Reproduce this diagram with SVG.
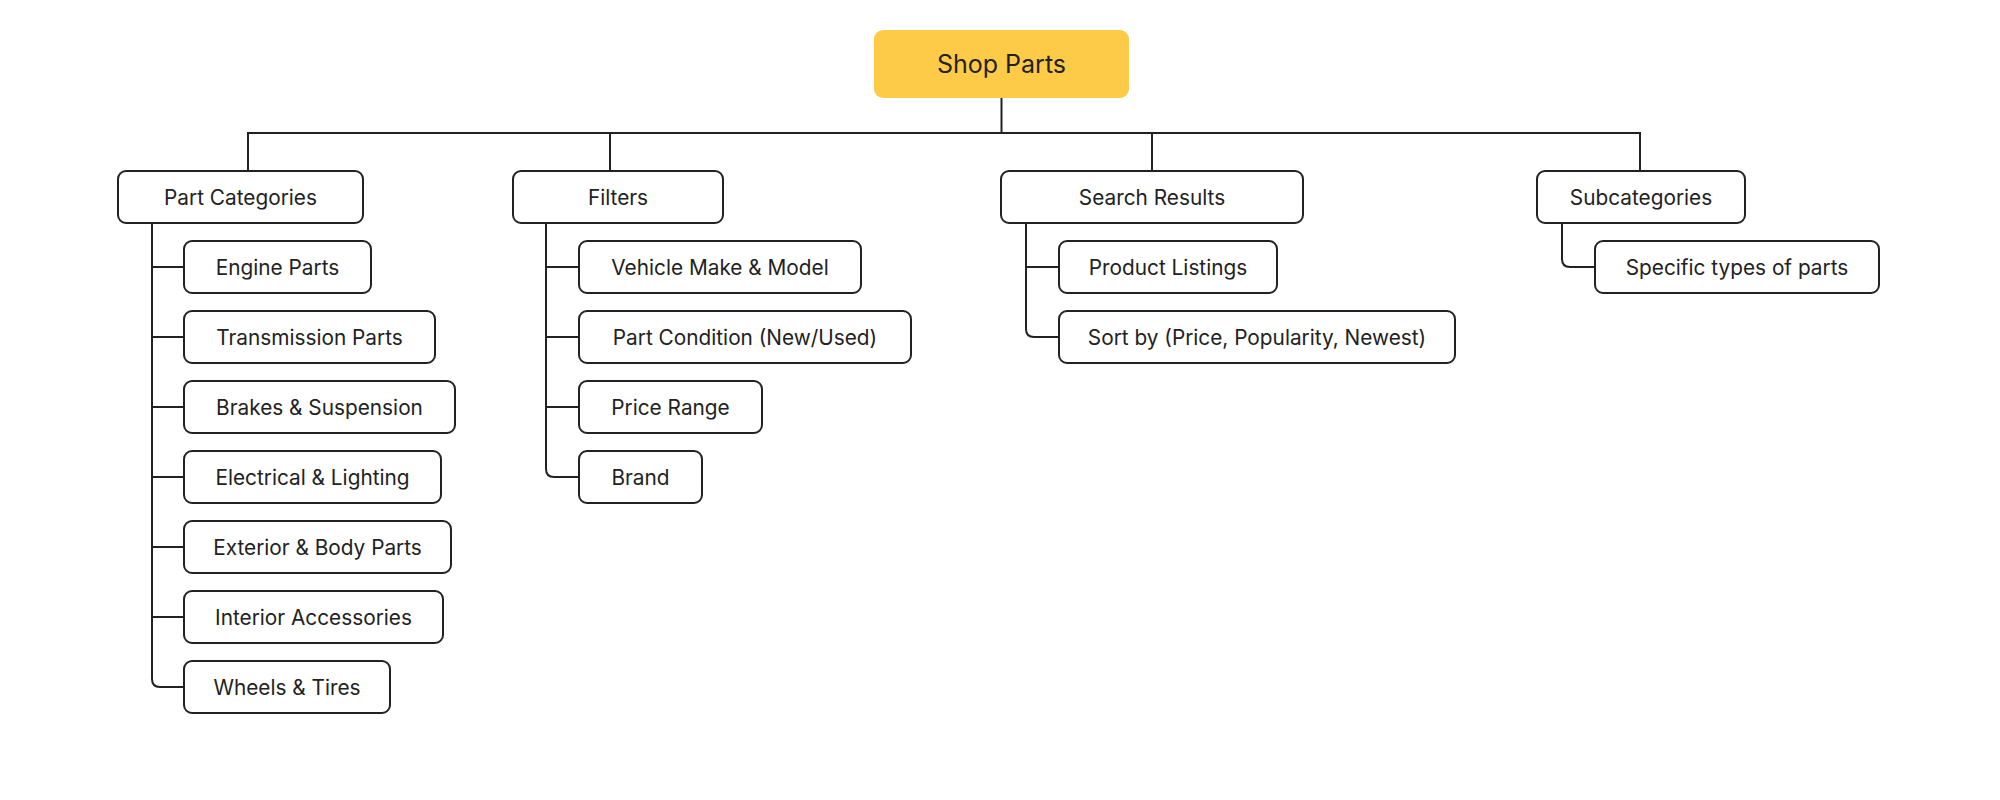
<svg xmlns="http://www.w3.org/2000/svg" width="2000" height="800" viewBox="0 0 2000 800">
<style>
.n rect{fill:#fff;stroke:#222;stroke-width:2}
.n text{font-family:"Inter","Noto Sans",sans-serif;font-size:20.8px;fill:#222;text-anchor:middle}
#root rect{fill:#FECB48;stroke:none}
#root text{font-size:25px}
.c path{fill:none;stroke:#222;stroke-width:2}
</style>
<rect width="2000" height="800" fill="#fff"/>
<g class="c" id="connectors">
<path d="M1001.5 98 V133"/>
<path d="M248 171 V133 H1640 V171"/>
<path d="M610 133 V171"/>
<path d="M1152 133 V171"/>
<path d="M152 223 V679 Q152 687 160 687 H184"/>
<path d="M152 267 H184 M152 337 H184 M152 407 H184 M152 477 H184 M152 547 H184 M152 617 H184"/>
<path d="M546 223 V469 Q546 477 554 477 H579"/>
<path d="M546 267 H579 M546 337 H579 M546 407 H579"/>
<path d="M1026 223 V329 Q1026 337 1034 337 H1059"/>
<path d="M1026 267 H1059"/>
<path d="M1562 223 V259 Q1562 267 1570 267 H1595"/>
</g>
<g class="n" id="root"><rect x="874" y="30" width="255" height="68" rx="9"/><text x="1001.5" y="72.5">Shop Parts</text></g>
<g class="n" id="part-categories"><rect x="118" y="171" width="245" height="52" rx="8"/><text x="240.5" y="204.5">Part Categories</text></g>
<g class="n" id="filters"><rect x="513" y="171" width="210" height="52" rx="8"/><text x="618" y="204.5">Filters</text></g>
<g class="n" id="search-results"><rect x="1001" y="171" width="302" height="52" rx="8"/><text x="1152" y="204.5">Search Results</text></g>
<g class="n" id="subcategories"><rect x="1537" y="171" width="208" height="52" rx="8"/><text x="1641" y="204.5">Subcategories</text></g>
<g class="n" id="engine-parts"><rect x="184" y="241" width="187" height="52" rx="8"/><text x="277.5" y="274.5">Engine Parts</text></g>
<g class="n" id="transmission-parts"><rect x="184" y="311" width="251" height="52" rx="8"/><text x="309.5" y="344.5">Transmission Parts</text></g>
<g class="n" id="brakes-suspension"><rect x="184" y="381" width="271" height="52" rx="8"/><text x="319.5" y="414.5">Brakes &amp; Suspension</text></g>
<g class="n" id="electrical-lighting"><rect x="184" y="451" width="257" height="52" rx="8"/><text x="312.5" y="484.5">Electrical &amp; Lighting</text></g>
<g class="n" id="exterior-body"><rect x="184" y="521" width="267" height="52" rx="8"/><text x="317.5" y="554.5">Exterior &amp; Body Parts</text></g>
<g class="n" id="interior-accessories"><rect x="184" y="591" width="259" height="52" rx="8"/><text x="313.5" y="624.5">Interior Accessories</text></g>
<g class="n" id="wheels-tires"><rect x="184" y="661" width="206" height="52" rx="8"/><text x="287" y="694.5">Wheels &amp; Tires</text></g>
<g class="n" id="vehicle-make-model"><rect x="579" y="241" width="282" height="52" rx="8"/><text x="720" y="274.5">Vehicle Make &amp; Model</text></g>
<g class="n" id="part-condition"><rect x="579" y="311" width="332" height="52" rx="8"/><text x="745" y="344.5">Part Condition (New/Used)</text></g>
<g class="n" id="price-range"><rect x="579" y="381" width="183" height="52" rx="8"/><text x="670.5" y="414.5">Price Range</text></g>
<g class="n" id="brand"><rect x="579" y="451" width="123" height="52" rx="8"/><text x="640.5" y="484.5">Brand</text></g>
<g class="n" id="product-listings"><rect x="1059" y="241" width="218" height="52" rx="8"/><text x="1168" y="274.5">Product Listings</text></g>
<g class="n" id="sort-by"><rect x="1059" y="311" width="396" height="52" rx="8"/><text x="1257" y="344.5">Sort by (Price, Popularity, Newest)</text></g>
<g class="n" id="specific-types"><rect x="1595" y="241" width="284" height="52" rx="8"/><text x="1737" y="274.5">Specific types of parts</text></g>
</svg>
